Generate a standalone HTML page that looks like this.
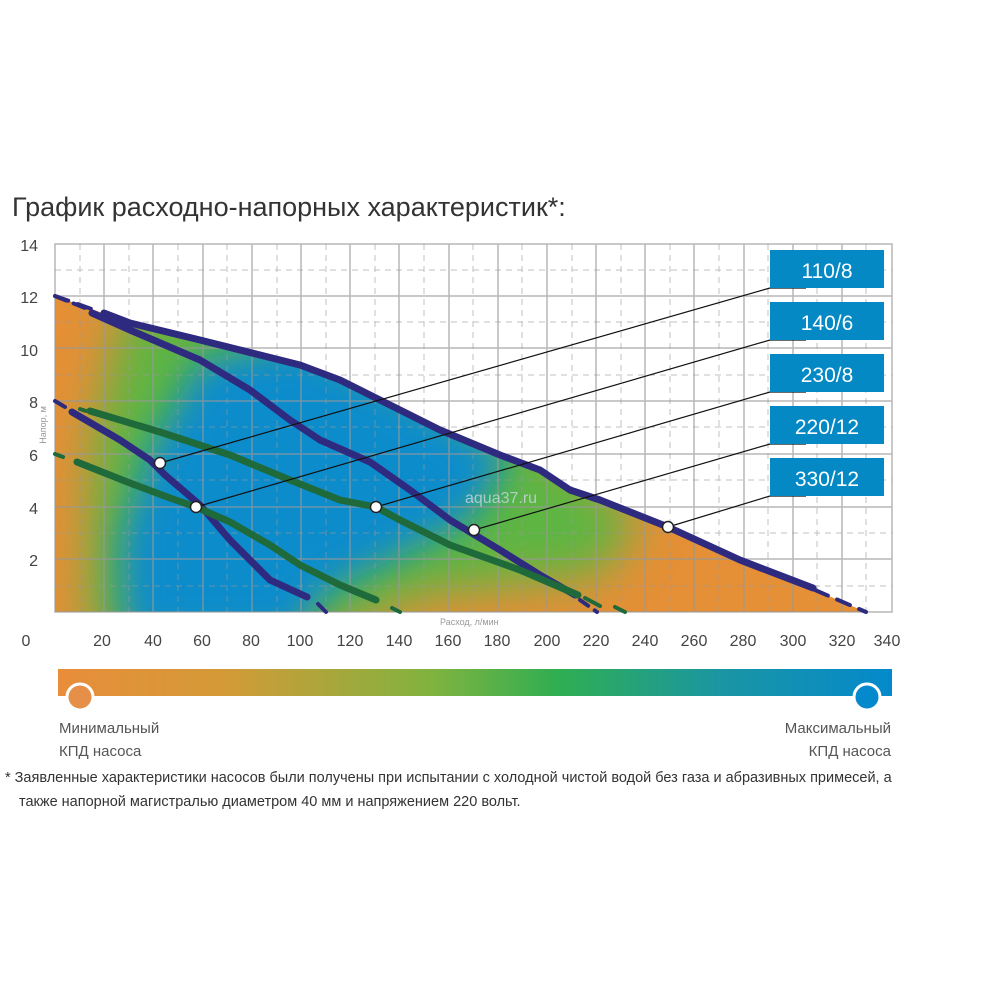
<!DOCTYPE html>
<html><head><meta charset="utf-8"><style>
body{margin:0;background:#fff;}
svg text{font-family:"Liberation Sans",sans-serif;}
</style></head><body>
<svg width="1000" height="1000" viewBox="0 0 1000 1000" xmlns="http://www.w3.org/2000/svg">
<defs>
<clipPath id="env"><path d="M55,296 L100,312 L130,323 L200,340 L300,365 L340,380 L390,405 L440,430 L500,455 L540,470 L570,490 L600,500 L668,527 L740,560 L815,590 L866,612 L55,612 Z"/></clipPath>
<filter id="b1" x="-50%" y="-50%" width="200%" height="200%"><feGaussianBlur stdDeviation="24"/></filter>
<filter id="b2" x="-50%" y="-50%" width="200%" height="200%"><feGaussianBlur stdDeviation="18"/></filter>
<linearGradient id="bar" x1="0" x2="1"><stop offset="0" stop-color="#e98d3a"/><stop offset="0.2" stop-color="#d39a38"/><stop offset="0.45" stop-color="#7fb33f"/><stop offset="0.6" stop-color="#2fae52"/><stop offset="0.8" stop-color="#1a95a5"/><stop offset="1" stop-color="#0489cc"/></linearGradient>
</defs>
<text x="12" y="216" font-size="27" fill="#333" font-weight="300">График расходно-напорных характеристик*:</text>
<g clip-path="url(#env)">
<rect x="55" y="240" width="840" height="380" fill="#e58f36"/>
<path d="M88,640 L92,450 L125,300 L330,320 L560,450 L640,520 L600,575 L420,595 L320,640 Z" fill="#5db543" filter="url(#b1)"/>
<path d="M125,640 L120,540 L150,450 L200,360 L300,340 L420,400 L510,455 L470,520 L400,555 L330,590 L290,640 Z" fill="#0a8ccc" filter="url(#b2)"/>
</g>
<g stroke="#999" stroke-width="1" fill="none" stroke-dasharray="6,5" opacity="0.6">
<path d="M80,244V612M129,244V612M178,244V612M227,244V612M277,244V612M326,244V612M375,244V612M424,244V612M473,244V612M522,244V612M572,244V612M621,244V612M670,244V612M719,244V612M768,244V612M817,244V612M866,244V612"/>
<path d="M55,270H892M55,322H892M55,375H892M55,427H892M55,480H892M55,533H892M55,586H892"/>
</g>
<g stroke="#999" stroke-width="1.5" fill="none" opacity="0.7">
<path d="M104,244V612M153,244V612M203,244V612M252,244V612M301,244V612M350,244V612M399,244V612M449,244V612M498,244V612M547,244V612M596,244V612M645,244V612M694,244V612M744,244V612M793,244V612M842,244V612"/>
<path d="M55,296H892M55,348H892M55,401H892M55,454H892M55,507H892M55,559H892"/>
<rect x="55" y="244" width="837" height="368"/>
</g>
<g fill="none" stroke-linecap="round" stroke-linejoin="round">
<path d="M55,296 L100,312" stroke="#2e2a80" stroke-width="4" stroke-dasharray="14,10"/>
<path d="M104,313 L130,323 L200,340 L300,365 L340,380 L390,405 L440,430 L500,455 L540,470 L570,490 L600,500 L668,527 L740,560 L813,588" stroke="#2e2a80" stroke-width="7"/>
<path d="M815,590 L866,612" stroke="#2e2a80" stroke-width="4" stroke-dasharray="14,10"/>
<path d="M55,296 L85,308" stroke="#2e2a80" stroke-width="4" stroke-dasharray="12,8"/>
<path d="M92,313 L130,330 L200,360 L250,390 L290,420 L320,440 L370,462 L410,490 L450,520 L500,550 L540,575 L575,595" stroke="#2e2a80" stroke-width="7"/>
<path d="M580,600 L597,612" stroke="#2e2a80" stroke-width="4" stroke-dasharray="10,8"/>
<path d="M80,409 L86,411" stroke="#1e6a3a" stroke-width="4"/>
<path d="M90,411 L160,432 L230,455 L290,480 L340,500 L376,507 L400,520 L450,545 L520,570 L578,595" stroke="#1e6a3a" stroke-width="7"/>
<path d="M585,598 L600,606 M615,607 L625,612" stroke="#1e6a3a" stroke-width="4"/>
<path d="M55,401 L65,407" stroke="#2e2a80" stroke-width="4"/>
<path d="M72,412 L120,440 L150,460 L165,475 L200,505 L230,540 L270,580 L307,597" stroke="#2e2a80" stroke-width="7"/>
<path d="M318,604 L326,612" stroke="#2e2a80" stroke-width="4"/>
<path d="M55,454 L63,457" stroke="#1e6a3a" stroke-width="4"/>
<path d="M77,462 L130,483 L170,498 L196,507 L230,522 L270,545 L300,565 L340,585 L376,600" stroke="#1e6a3a" stroke-width="7"/>
<path d="M392,608 L400,612" stroke="#1e6a3a" stroke-width="4"/>
</g>
<g stroke="#111" stroke-width="1.2" fill="none">
<path d="M160,463 L770,288 H806"/>
<path d="M196,507 L770,340 H806"/>
<path d="M376,507 L770,392 H806"/>
<path d="M474,530 L770,444 H806"/>
<path d="M668,527 L770,496 H806"/>
</g>
<g fill="#fff" stroke="#222" stroke-width="1.5">
<circle cx="160" cy="463" r="5.5"/><circle cx="196" cy="507" r="5.5"/><circle cx="376" cy="507" r="5.5"/><circle cx="474" cy="530" r="5.5"/><circle cx="668" cy="527" r="5.5"/>
</g>
<g fill="#0489c5">
<rect x="770" y="250" width="114" height="38"/><rect x="770" y="302" width="114" height="38"/><rect x="770" y="354" width="114" height="38"/><rect x="770" y="406" width="114" height="38"/><rect x="770" y="458" width="114" height="38"/>
</g>
<g fill="#fff" font-size="21" text-anchor="middle">
<text x="827" y="278">110/8</text><text x="827" y="330">140/6</text><text x="827" y="382">230/8</text><text x="827" y="434">220/12</text><text x="827" y="486">330/12</text>
</g>
<text x="465" y="503" font-size="16" fill="#c9d6e0" opacity="0.8">aqua37.ru</text>
<g fill="#444" font-size="16" text-anchor="end">
<text x="38" y="251">14</text><text x="38" y="303">12</text><text x="38" y="356">10</text><text x="38" y="408">8</text><text x="38" y="461">6</text><text x="38" y="514">4</text><text x="38" y="566">2</text>
</g>
<text transform="translate(46,425) rotate(-90)" font-size="9" fill="#999" text-anchor="middle">Напор, м</text>
<text x="440" y="625" font-size="9" fill="#999">Расход, л/мин</text>
<g fill="#444" font-size="16" text-anchor="middle">
<text x="26" y="646">0</text><text x="102" y="646">20</text><text x="153" y="646">40</text><text x="202" y="646">60</text><text x="251" y="646">80</text><text x="300" y="646">100</text><text x="350" y="646">120</text><text x="399" y="646">140</text><text x="448" y="646">160</text><text x="497" y="646">180</text><text x="547" y="646">200</text><text x="596" y="646">220</text><text x="645" y="646">240</text><text x="694" y="646">260</text><text x="743" y="646">280</text><text x="793" y="646">300</text><text x="842" y="646">320</text><text x="887" y="646">340</text>
</g>
<rect x="58" y="669" width="834" height="27" fill="url(#bar)"/>
<circle cx="80" cy="697" r="13" fill="#e58f48" stroke="#fff" stroke-width="3"/>
<circle cx="867" cy="697" r="13" fill="#0489cc" stroke="#fff" stroke-width="3"/>
<g fill="#555" font-size="15">
<text x="59" y="733">Минимальный</text><text x="59" y="756">КПД насоса</text>
<text x="891" y="733" text-anchor="end">Максимальный</text><text x="891" y="756" text-anchor="end">КПД насоса</text>
</g>
<g fill="#333" font-size="14.5">
<text x="5" y="782">* Заявленные характеристики насосов были получены при испытании с холодной чистой водой без газа и абразивных примесей, а</text>
<text x="19" y="806">также напорной магистралью диаметром 40 мм и напряжением 220 вольт.</text>
</g>
</svg>
</body></html>
